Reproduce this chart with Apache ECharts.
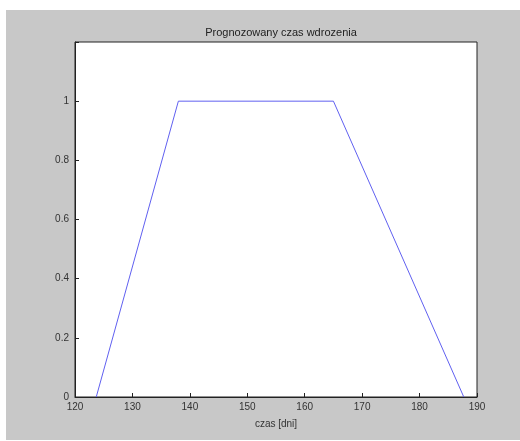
<!DOCTYPE html>
<html>
<head>
<meta charset="utf-8">
<script src="https://cdn.jsdelivr.net/npm/echarts@6/dist/echarts.min.js"></script>
<style>
  html, body { margin: 0; padding: 0; background: #fff; }
  #chart { position: absolute; left: 6px; top: 10px; width: 514px; height: 430px; }
</style>
</head>
<body>
<div id="chart"></div>
<script>
// trapezoid: czas [dni] vs membership
const czas = [123.7, 138, 165, 187.7];
const wartosc = [0, 1, 1, 0];
const xTicks = [120, 130, 140, 150, 160, 170, 180, 190];
const yTicks = [0, 0.2, 0.4, 0.6, 0.8, 1];

const chart = echarts.init(document.getElementById('chart'));
const font = { fontFamily: 'Liberation Sans', fontSize: 10, color: '#333' };

chart.setOption({
  backgroundColor: '#c8c8c8',
  animation: false,
  title: {
    text: 'Prognozowany czas wdrozenia',
    left: 270, top: 12, textAlign: 'center',
    textStyle: { fontFamily: 'Liberation Sans', fontSize: 11, fontWeight: 'normal', color: '#222' }
  },
  grid: {
    left: 69, right: 43, top: 32, bottom: 43,
    show: true, backgroundColor: '#fff', borderColor: '#222', borderWidth: 1
  },
  xAxis: {
    type: 'value', min: 120, max: 190, interval: 10,
    name: 'czas [dni]', nameLocation: 'middle', nameGap: 22,
    nameTextStyle: font,
    axisLine: { lineStyle: { color: '#222' } },
    axisTick: { inside: true, length: 4, lineStyle: { color: '#222' } },
    axisLabel: Object.assign({ margin: 5 }, font),
    splitLine: { show: false }
  },
  yAxis: {
    type: 'value', min: 0, max: 1.2, interval: 0.2,
    axisLine: { show: true, lineStyle: { color: '#222' } },
    axisTick: { inside: true, length: 4, lineStyle: { color: '#222' } },
    axisLabel: Object.assign({
      margin: 6,
      formatter: v => yTicks.some(t => Math.abs(t - v) < 1e-9) ? String(+v.toFixed(1)) : ''
    }, font),
    splitLine: { show: false }
  },
  series: [{
    type: 'line',
    data: czas.map((x, i) => [x, wartosc[i]]),
    symbol: 'none',
    lineStyle: { color: '#6060f0', width: 1 }
  }]
});
</script>
</body>
</html>
